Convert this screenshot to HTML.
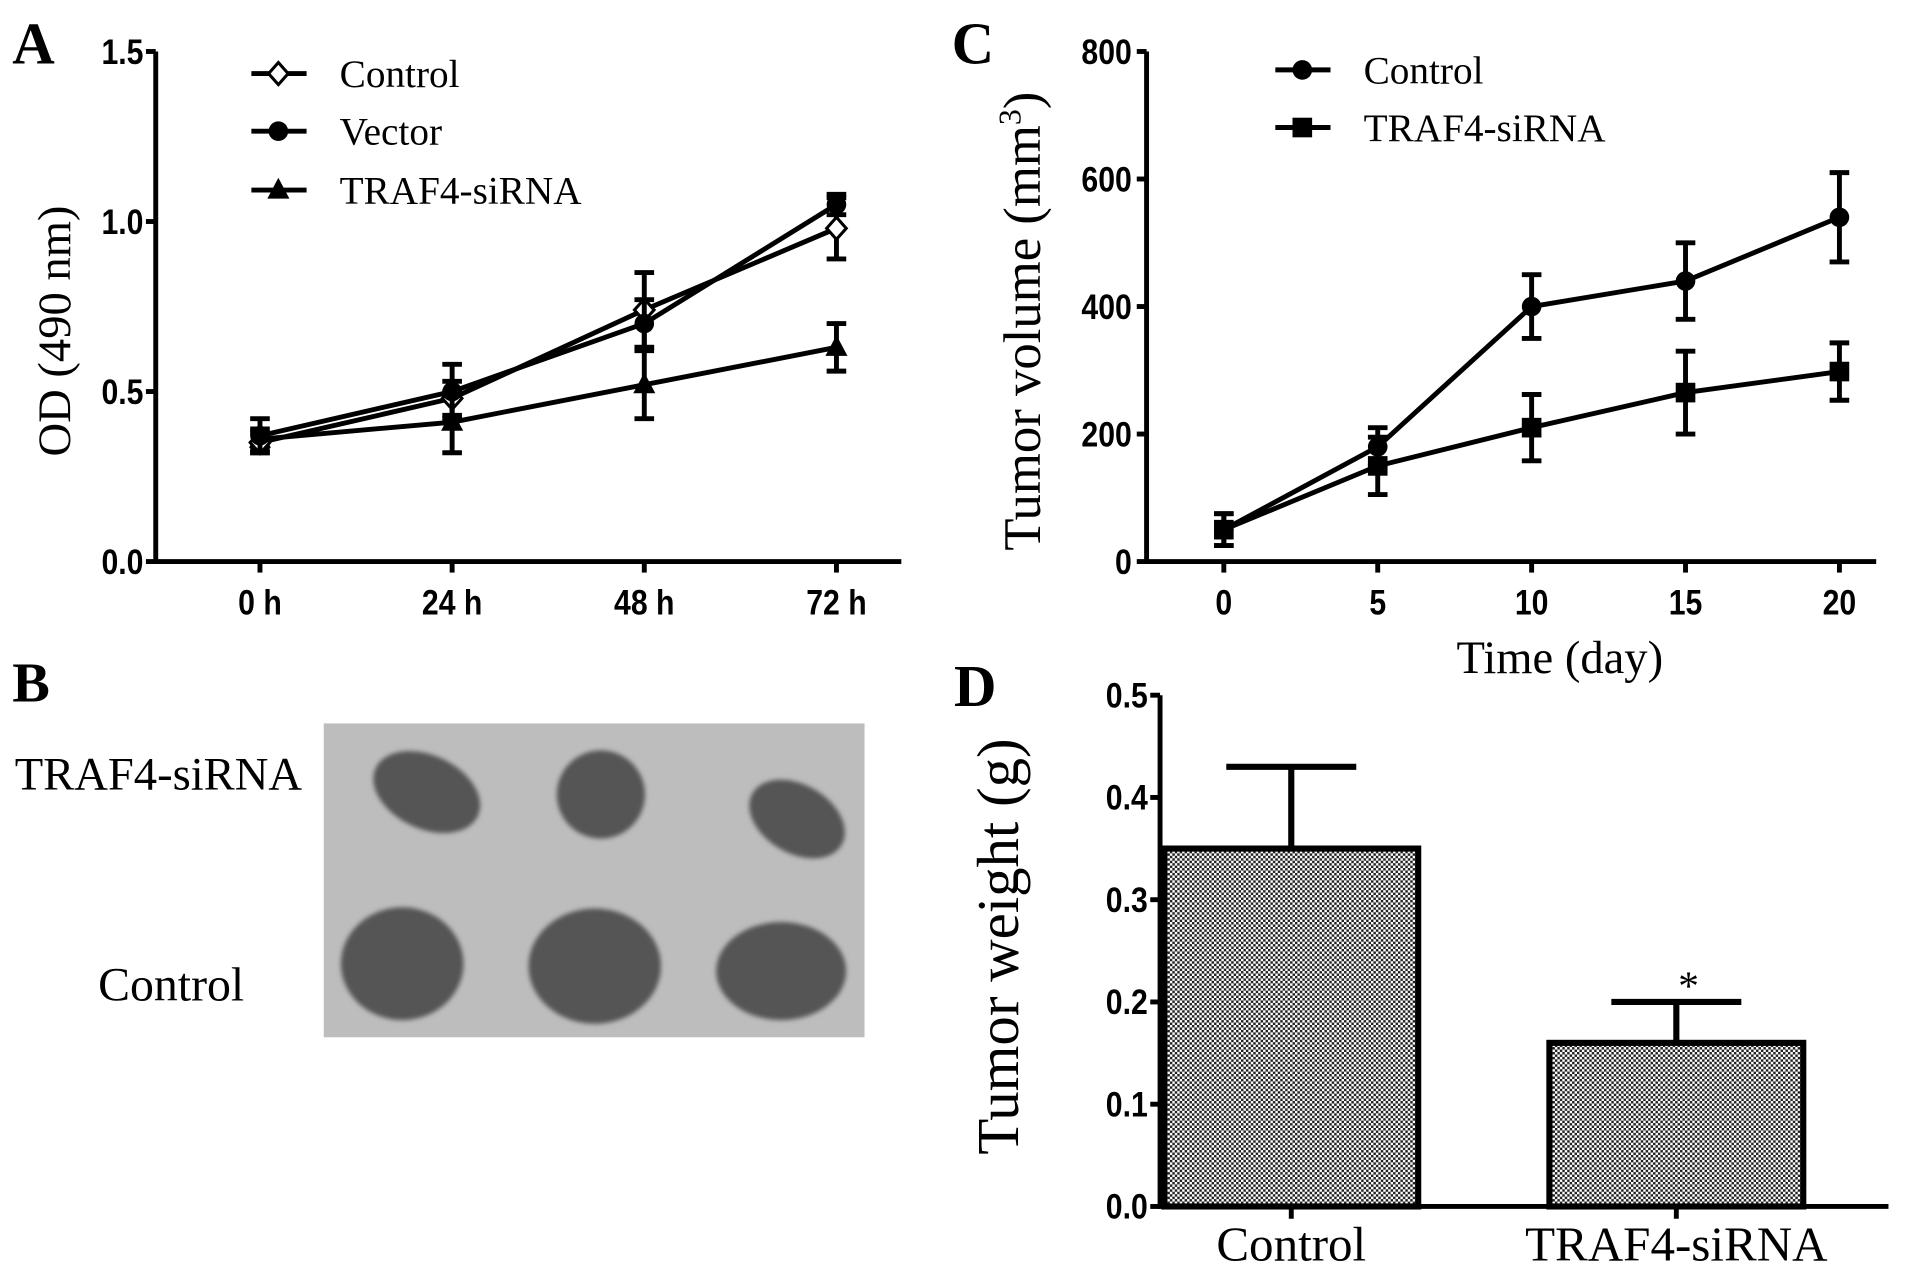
<!DOCTYPE html>
<html><head><meta charset="utf-8"><style>
html,body{margin:0;padding:0;background:#fff;}
svg{display:block;}
.tk{font-family:"Liberation Sans",sans-serif;font-weight:bold;font-size:29px;}
.sf{font-family:"Liberation Serif",serif;}
</style></head><body>
<svg id="fig" width="1913" height="1269" viewBox="0 0 1560 1035" preserveAspectRatio="none" xmlns="http://www.w3.org/2000/svg">
<defs>
<pattern id="chk" width="4" height="4" patternUnits="userSpaceOnUse">
<rect width="4" height="4" fill="#fff"/><rect width="2" height="2" fill="#222"/><rect x="2" y="2" width="2" height="2" fill="#222"/>
</pattern>
<filter id="blur"><feGaussianBlur stdDeviation="2"/></filter>
</defs>
<g id="pA"></g>
<g id="pC"></g>
<g id="pD"></g>
<g id="pB">
<text class="sf" x="10" y="572" font-size="46" font-weight="bold">B</text>
<rect x="264" y="590" width="441" height="256" fill="#bdbdbd"/>
<g filter="url(#blur)" fill="#555">
<ellipse cx="348" cy="646" rx="46" ry="30" transform="rotate(25 348 646)"/>
<ellipse cx="490" cy="648" rx="36" ry="36"/>
<ellipse cx="650" cy="668" rx="42" ry="28" transform="rotate(30 650 668)"/>
<ellipse cx="328" cy="786" rx="50" ry="46"/>
<ellipse cx="485" cy="788" rx="54" ry="47"/>
<ellipse cx="637" cy="792" rx="53" ry="40"/>
</g>
<text class="sf" x="12" y="644" font-size="38">TRAF4-siRNA</text>
<text class="sf" x="80" y="816" font-size="39">Control</text>
</g>
</svg>
<script>
const NS="http://www.w3.org/2000/svg";
function mk(p,t,a){const e=document.createElementNS(NS,t);for(const k in a)e.setAttribute(k,a[k]);p.appendChild(e);return e;}

// Panel A data
const aCats=["0 h","24 h","48 h","72 h"];
const aTicks=[0,0.5,1.0,1.5];
const aControl=[0.35,0.48,0.74,0.98];
const aControlErr=[0.03,0.05,0.11,0.09];
const aVector=[0.37,0.50,0.70,1.05];
const aVectorErr=[0.05,0.08,0.07,0.03];
const aSirna=[0.36,0.41,0.52,0.63];
const aSirnaErr=[0.03,0.09,0.10,0.07];
// Panel C data
const cDays=[0,5,10,15,20];
const cTicks=[0,200,400,600,800];
const cControl=[50,180,400,440,540];
const cControlErr=[25,30,50,60,70];
const cSirna=[50,150,210,265,298];
const cSirnaErr=[25,45,52,65,45];
// Panel D data
const dCats=["Control","TRAF4-siRNA"];
const dVals=[0.35,0.16];
const dErr=[0.08,0.04];
const dTicks=[0,0.1,0.2,0.3,0.4,0.5];

function tick(g,x,y,anchor,txt){
  const t=mk(g,"text",{x:0,y:0,"text-anchor":anchor,class:"tk",transform:`translate(${x},${y}) scale(0.85,1)`});
  t.textContent=txt;return t;
}
function marker(g,type,x,y){
  let m;
  if(type==="diamond"){m=mk(g,"polygon",{points:`${x},${y-9} ${x+8},${y} ${x},${y+9} ${x-8},${y}`,fill:"#fff",stroke:"#000","stroke-width":2.5});}
  else if(type==="circle"){m=mk(g,"circle",{cx:x,cy:y,r:8,fill:"#000"});}
  else if(type==="square"){m=mk(g,"rect",{x:x-8,y:y-8,width:16,height:16,fill:"#000"});}
  else {m=mk(g,"polygon",{points:`${x},${y-10} ${x+9},${y+7} ${x-9},${y+7}`,fill:"#000"});}
  return m;
}
function series(g,name,xs,vals,errs,xf,yf,type){
  const s=mk(g,"g",{});
  
  
  const pts=vals.map((v,i)=>xf(i)+","+yf(v)).join(" ");
  mk(s,"polyline",{points:pts,fill:"none",stroke:"#000","stroke-width":4});
  vals.forEach((v,i)=>{
    const x=xf(i),y1=yf(v+errs[i]),y2=yf(v-errs[i]);
    const eb=mk(s,"path",{d:`M${x},${y1}V${y2}M${x-8},${y1}h16M${x-8},${y2}h16`,stroke:"#000","stroke-width":4,fill:"none"});
    
    
    const m=marker(s,type,x,yf(v));
    
    
  });
}
function legend(g,name,y,x1,type,label){
  const l=mk(g,"g",{});
  
  
  mk(l,"line",{x1:x1,x2:x1+45,y1:y,y2:y,stroke:"#000","stroke-width":4});
  marker(l,type,x1+22,y);
  const t=mk(l,"text",{x:x1+72,y:y+11,"font-size":32,class:"sf"});t.textContent=label;
}

// ---------- Panel A
(function(){
  const g=document.getElementById("pA");
  const X0=127,X1=735,Y0=458,Y1=42;
  const xs=[212,368,525,682];
  const xf=i=>212+i*156.7;
  const yf=v=>Y0-(v/1.5)*(Y0-Y1);
  const lab=mk(g,"text",{x:10,y:52,"font-size":48,"font-weight":"bold",class:"sf"});lab.textContent="A";
  
  const ax=mk(g,"path",{d:`M${X0},${Y1}V${Y0}H${X1}`,stroke:"#000","stroke-width":4,fill:"none"});
  
  aTicks.forEach(v=>{
    mk(g,"line",{x1:X0-8,x2:X0,y1:yf(v),y2:yf(v),stroke:"#000","stroke-width":4});
    const t=tick(g,X0-10,yf(v)+10,"end",v.toFixed(1));
    
  });
  aCats.forEach((c,i)=>{
    mk(g,"line",{x1:xf(i),x2:xf(i),y1:Y0,y2:Y0+9,stroke:"#000","stroke-width":4});
    const t=tick(g,xf(i),501,"middle",c);
    
  });
  const yt=mk(g,"text",{x:0,y:0,"font-size":38,"text-anchor":"middle",class:"sf",transform:"translate(57,270) rotate(-90)"});yt.textContent="OD (490 nm)";
  
  series(g,"series-traf4-sirna",xs,aSirna,aSirnaErr,xf,yf,"triangle");
  series(g,"series-control",xs,aControl,aControlErr,xf,yf,"diamond");
  series(g,"series-vector",xs,aVector,aVectorErr,xf,yf,"circle");
  legend(g,"legend-control",60,205,"diamond","Control");
  legend(g,"legend-vector",107,205,"circle","Vector");
  legend(g,"legend-traf4-sirna",155,205,"triangle","TRAF4-siRNA");
})();

// ---------- Panel C
(function(){
  const g=document.getElementById("pC");
  const X0=935,X1=1530,Y0=458,Y1=42;
  const xf=i=>998+(cDays[i]/20)*502;
  const yf=v=>Y0-(v/800)*(Y0-Y1);
  const lab=mk(g,"text",{x:776,y:52,"font-size":48,"font-weight":"bold",class:"sf"});lab.textContent="C";
  
  const ax=mk(g,"path",{d:`M${X0},${Y1}V${Y0}H${X1}`,stroke:"#000","stroke-width":4,fill:"none"});
  
  cTicks.forEach(v=>{
    mk(g,"line",{x1:X0-8,x2:X0,y1:yf(v),y2:yf(v),stroke:"#000","stroke-width":4});
    const t=tick(g,X0-12,yf(v)+10,"end",String(v));
    
  });
  cDays.forEach((d,i)=>{
    mk(g,"line",{x1:xf(i),x2:xf(i),y1:Y0,y2:Y0+9,stroke:"#000","stroke-width":4});
    const t=tick(g,xf(i),501,"middle",String(d));
    
  });
  const xt=mk(g,"text",{x:1272,y:549,"font-size":38,"text-anchor":"middle",class:"sf"});xt.textContent="Time (day)";
  
  const yt=mk(g,"text",{x:0,y:0,"font-size":43,"text-anchor":"middle",class:"sf",transform:"translate(848,262) rotate(-90)"});
  yt.innerHTML='Tumor volume (mm<tspan font-size="26" dy="-16">3</tspan><tspan dy="16">)</tspan>';
  
  series(g,"series-traf4-sirna",cDays,cSirna,cSirnaErr,xf,yf,"square");
  series(g,"series-control",cDays,cControl,cControlErr,xf,yf,"circle");
  legend(g,"legend-control",57,1040,"circle","Control");
  legend(g,"legend-traf4-sirna",104,1040,"square","TRAF4-siRNA");
})();

// ---------- Panel D
(function(){
  const g=document.getElementById("pD");
  const X0=946,X1=1540,Y0=984,Y1=567;
  const xf=i=>1053+i*314;
  const yf=v=>Y0-(v/0.5)*(Y0-Y1);
  const bw=207;
  const lab=mk(g,"text",{x:778,y:576,"font-size":48,"font-weight":"bold",class:"sf"});lab.textContent="D";
  
  dVals.forEach((v,i)=>{
    const x=xf(i),yt=yf(v+dErr[i]);
    const eb=mk(g,"path",{d:`M${x},${yf(v)}V${yt}M${x-53},${yt}h106`,stroke:"#000","stroke-width":5,fill:"none"});
    
    const b=mk(g,"rect",{x:x-bw/2,y:yf(v),width:bw,height:Y0-yf(v),fill:"url(#chk)",stroke:"#000","stroke-width":5});
    
    mk(g,"line",{x1:x,x2:x,y1:Y0,y2:Y0+10,stroke:"#000","stroke-width":4});
    const t=mk(g,"text",{x:x,y:1028,"font-size":40,"text-anchor":"middle",class:"sf"});t.textContent=dCats[i];
    
  });
  const ast=mk(g,"text",{x:xf(1)+10,y:yf(dVals[1]+dErr[1])-2,"font-size":34,"text-anchor":"middle",class:"sf"});ast.textContent="*";
  
  const ax=mk(g,"path",{d:`M${X0},${Y1}V${Y0}H${X1}`,stroke:"#000","stroke-width":4,fill:"none"});
  
  dTicks.forEach(v=>{
    mk(g,"line",{x1:X0-8,x2:X0,y1:yf(v),y2:yf(v),stroke:"#000","stroke-width":4});
    const t=tick(g,X0-10,yf(v)+10,"end",v.toFixed(1));
    
  });
  const yt=mk(g,"text",{x:0,y:0,"font-size":48,"text-anchor":"middle",class:"sf",transform:"translate(830,772) rotate(-90)"});yt.textContent="Tumor weight (g)";
  
})();
</script>
</body></html>
